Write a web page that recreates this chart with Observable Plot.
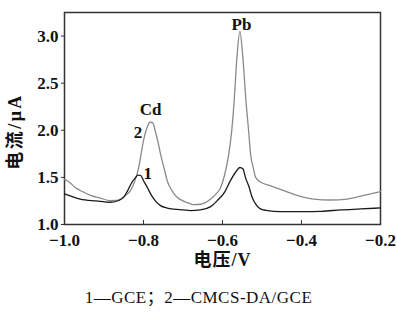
<!DOCTYPE html>
<html><head><meta charset="utf-8">
<script src="https://cdn.jsdelivr.net/npm/d3@7"></script>
<script src="https://cdn.jsdelivr.net/npm/@observablehq/plot@0.6"></script>
<style>
body{margin:0;background:#fff;}
#cap{font-family:"Liberation Serif","Noto Sans CJK SC",serif;font-size:17px;letter-spacing:0.5px;text-align:center;width:397px;padding-top:11px;color:#111;}
</style></head>
<body><div id="chart"></div><div id="cap"></div>
<script>
const v1 = [-1.0,-0.96,-0.92,-0.884,-0.86,-0.85,-0.84,-0.829,-0.82,-0.814,-0.807,-0.80,-0.79,-0.782,-0.77,-0.757,-0.74,-0.723,-0.70,-0.681,-0.656,-0.63,-0.613,-0.595,-0.58,-0.566,-0.556,-0.548,-0.542,-0.533,-0.525,-0.515,-0.504,-0.49,-0.453,-0.40,-0.35,-0.30,-0.25,-0.2];
const i1 = [1.325,1.27,1.25,1.236,1.26,1.29,1.36,1.45,1.50,1.525,1.52,1.465,1.39,1.325,1.25,1.20,1.175,1.163,1.155,1.148,1.155,1.19,1.254,1.34,1.465,1.56,1.605,1.59,1.50,1.40,1.29,1.21,1.166,1.15,1.137,1.137,1.14,1.155,1.165,1.176];
const v2 = [-1.0,-0.985,-0.972,-0.955,-0.934,-0.91,-0.884,-0.87,-0.858,-0.845,-0.833,-0.822,-0.812,-0.80,-0.79,-0.784,-0.777,-0.770,-0.763,-0.757,-0.748,-0.74,-0.728,-0.715,-0.70,-0.681,-0.673,-0.655,-0.63,-0.615,-0.605,-0.595,-0.584,-0.577,-0.571,-0.563,-0.556,-0.549,-0.54,-0.534,-0.529,-0.522,-0.516,-0.504,-0.478,-0.445,-0.411,-0.369,-0.327,-0.284,-0.242,-0.2];
const i2 = [1.48,1.44,1.39,1.35,1.31,1.28,1.254,1.255,1.27,1.31,1.36,1.46,1.606,1.89,2.04,2.085,2.08,1.99,1.87,1.75,1.60,1.465,1.36,1.29,1.25,1.22,1.21,1.215,1.27,1.33,1.39,1.52,1.75,1.98,2.28,2.80,3.05,2.80,2.28,2.00,1.75,1.60,1.50,1.45,1.41,1.36,1.31,1.27,1.26,1.27,1.31,1.35];
const xTicks = [-1.0,-0.8,-0.6,-0.4,-0.2];
const yTicks = [1.0,1.5,2.0,2.5,3.0];
const labelText = ["Cd","Pb","2","1"];
const labelV = [-0.782,-0.552,-0.814,-0.789];
const labelI = [2.22,3.125,1.975,1.54];
const xLabel = "电压/V";
const yLabel = "电流/μA";
const caption = "1—GCE；2—CMCS-DA/GCE";

const d1 = v1.map((v,k)=>({v, i:i1[k]}));
const d2 = v2.map((v,k)=>({v, i:i2[k]}));
const labs = labelText.map((t,k)=>({t, v:labelV[k], i:labelI[k]}));

const plot = Plot.plot({
  width: 397, height: 272,
  marginLeft: 64, marginRight: 17, marginTop: 12, marginBottom: 48,
  style: {fontFamily: "'Liberation Serif','Noto Sans CJK SC',serif", fontSize: "17px", fontWeight: "bold", background: "#fff"},
  x: {domain: [-1.0, -0.2]},
  y: {domain: [1.0, 3.25]},
  marks: [
    Plot.frame({stroke: "#333", strokeWidth: 1.5}),
    Plot.line(d2, {x: "v", y: "i", stroke: "#8a8a8a", strokeWidth: 1.3, curve: "monotone-x"}),
    Plot.line(d1, {x: "v", y: "i", stroke: "#1a1a1a", strokeWidth: 1.3, curve: "monotone-x"}),
    Plot.text(labs, {x: "v", y: "i", text: "t", fontSize: 17, fontWeight: "bold", fill: "#111"}),
    Plot.axisX({ticks: xTicks, tickFormat: d3.format(".1f"), tickSize: -4, tickPadding: 13, label: null, stroke: "#333", fill: "#111", fontSize: 17}),
    Plot.axisY({ticks: yTicks, tickFormat: d3.format(".1f"), tickSize: 3, tickPadding: 3, label: null, stroke: "#333", fill: "#111", fontSize: 17}),
    Plot.text([xLabel], {frameAnchor: "bottom", lineAnchor: "middle", textAnchor: "middle", dy: 36, fontSize: 18, fill: "#111"}),
    Plot.text([yLabel], {frameAnchor: "left", lineAnchor: "middle", textAnchor: "middle", dx: -49, dy: 13, rotate: -90, fontSize: 18, fill: "#111"})
  ]
});
d3.select(plot).selectAll("text").filter(function(){ return this.textContent === yLabel; }).style("letter-spacing", "2.5px");
d3.select(plot).selectAll("text").filter(function(){ return this.textContent === xLabel; }).style("letter-spacing", "1px");
document.getElementById("chart").appendChild(plot);
document.getElementById("cap").textContent = caption;
</script>
</body></html>
